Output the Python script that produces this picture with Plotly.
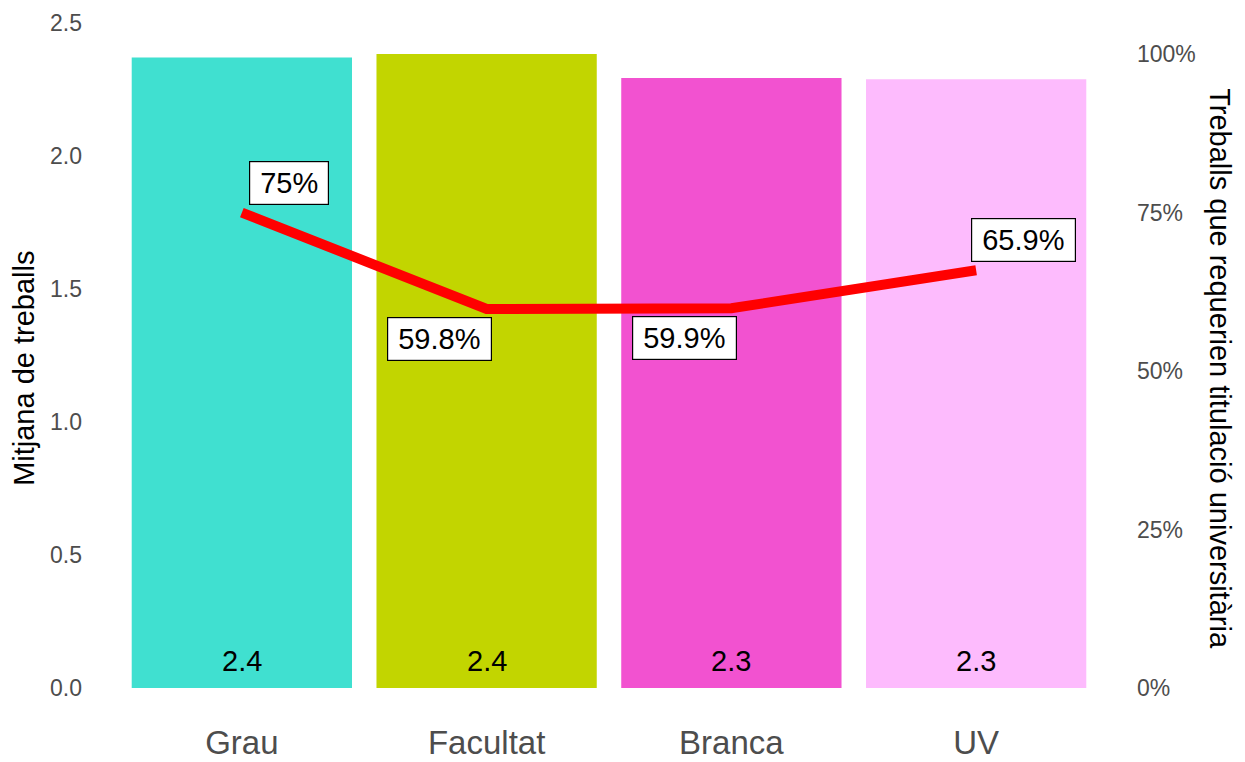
import plotly.graph_objects as go

categories = ["Grau", "Facultat", "Branca", "UV"]
mean_jobs = [2.37, 2.383, 2.293, 2.289]
pct_required = [75.0, 59.8, 59.9, 65.9]
bar_colors = ["#40E0D0", "#C2D500", "#F252D0", "#FDBBFD"]
left_ticks = [0, 0.5, 1.0, 1.5, 2.0, 2.5]
left_ticktext = ["0.0", "0.5", "1.0", "1.5", "2.0", "2.5"]
right_ticks = [0, 25, 50, 75, 100]
right_ticktext = ["0%", "25%", "50%", "75%", "100%"]
pct_labels = ["75%", "59.8%", "59.9%", "65.9%"]
label_dir = [(1, 1), (-1, -1), (-1, -1), (1, 1)]  # (horizontal, vertical) nudge direction

FONT = "Liberation Sans, Arial, sans-serif"
LABEL_SIZE = 29
y_max = 2.5
y2_max = y_max / max(mean_jobs) * 100

CHAR_W = {".": 0.278, "%": 0.889}


def text_width(s, size):
    return sum(CHAR_W.get(ch, 0.556) for ch in s) * size


fig = go.Figure()
fig.add_trace(go.Bar(
    x=categories, y=mean_jobs, marker=dict(color=bar_colors, line=dict(width=0)),
    width=0.9, showlegend=False, hoverinfo="skip"))
fig.add_trace(go.Scatter(
    x=categories, y=pct_required, yaxis="y2", mode="lines",
    line=dict(color="#FF0000", width=10), showlegend=False, hoverinfo="skip"))

annotations = []
for c, v in zip(categories, mean_jobs):
    annotations.append(dict(
        x=c, y=0, xref="x", yref="y", text=f"{v:.1f}", showarrow=False,
        yanchor="bottom", yshift=9, font=dict(family=FONT, size=LABEL_SIZE, color="black")))
for c, p, lab, (hx, vy) in zip(categories, pct_required, pct_labels, label_dir):
    annotations.append(dict(
        x=c, y=p, xref="x", yref="y2", text=lab, showarrow=False,
        xshift=47 * hx, yshift=30 * vy, width=text_width(lab, LABEL_SIZE) + 10,
        align="center",
        font=dict(family=FONT, size=LABEL_SIZE, color="black"),
        bgcolor="white", bordercolor="black", borderwidth=1.2, borderpad=5))
annotations.append(dict(
    x=-0.069, y=0.48, xref="paper", yref="paper", text="Mitjana de treballs",
    showarrow=False, textangle=-90, font=dict(family=FONT, size=29, color="black"),
    xanchor="center", yanchor="middle"))
annotations.append(dict(
    x=1.095, y=0.48, xref="paper", yref="paper",
    text="Treballs que requerien titulació universitària",
    showarrow=False, textangle=90, font=dict(family=FONT, size=29, color="black"),
    xanchor="center", yanchor="middle"))

fig.update_layout(
    width=1245, height=762,
    margin=dict(l=94.5, r=121.5, t=23, b=74, autoexpand=False),
    plot_bgcolor="white", paper_bgcolor="white",
    bargap=0.1,
    font=dict(family=FONT),
    xaxis=dict(showgrid=False, zeroline=False, showline=False, ticks="",
               tickfont=dict(family=FONT, size=33, color="#4D4D4D"),
               ticklabelstandoff=32, automargin=False,
               range=[-0.6, 3.6]),
    yaxis=dict(range=[0, y_max], showgrid=False, zeroline=False, showline=False,
               tickvals=left_ticks, ticktext=left_ticktext, ticks="",
               ticklabelstandoff=12, automargin=False,
               tickfont=dict(family=FONT, size=23, color="#4D4D4D")),
    yaxis2=dict(range=[0, y2_max], overlaying="y", side="right", showgrid=False,
                zeroline=False, showline=False, tickvals=right_ticks,
                ticktext=right_ticktext, ticks="", ticklabelstandoff=13,
                automargin=False,
                tickfont=dict(family=FONT, size=23, color="#4D4D4D")),
    annotations=annotations,
)

fig.write_html("out.html", config={"displayModeBar": False},
               post_script="document.body.style.margin='0';")
